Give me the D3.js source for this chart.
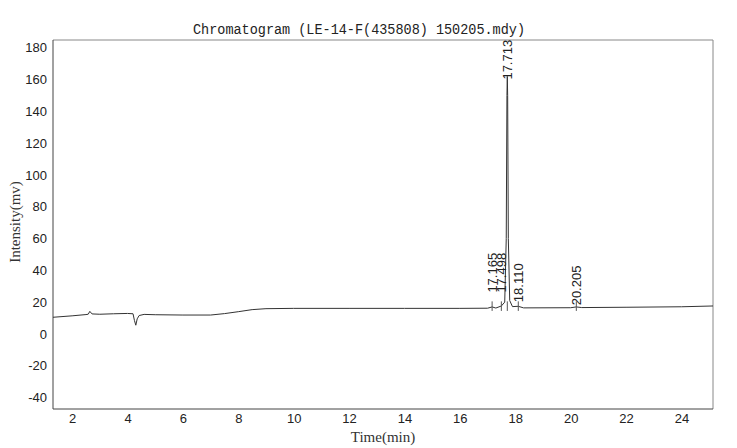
<!DOCTYPE html>
<html>
<head>
<meta charset="utf-8">
<script src="https://cdn.jsdelivr.net/npm/d3@7"></script>
<style>
  html, body { margin: 0; padding: 0; background: #ffffff; }
  svg { display: block; }
</style>
</head>
<body>
<svg id="chart" width="737" height="448"></svg>
<script>
// ---- data ----
const titleText = "Chromatogram (LE-14-F(435808) 150205.mdy)";
const xLabel = "Time(min)";
const yLabel = "Intensity(mv)";
const xTicks = [2, 4, 6, 8, 10, 12, 14, 16, 18, 20, 22, 24];
const yTicks = [-40, -20, 0, 20, 40, 60, 80, 100, 120, 140, 160, 180];
const traceTime = [1.31, 2.0, 2.5, 2.58, 2.64, 2.72, 3.0, 3.5, 4.0, 4.2, 4.25, 4.3, 4.35, 4.42, 4.6, 5.0, 6.0, 7.0, 7.5, 8.0, 8.5, 9.0, 10.0, 12.0, 14.0, 16.0, 17.0, 17.165, 17.3, 17.498, 17.62, 17.675, 17.70, 17.713, 17.726, 17.75, 17.80, 17.9, 18.11, 18.3, 20.0, 20.205, 20.4, 22.0, 24.0, 25.14];
const traceValue = [10.5, 11.4, 12.2, 12.4, 14.2, 12.6, 12.4, 12.7, 12.9, 12.7, 8.5, 5.5, 9.5, 11.6, 12.3, 12.1, 11.9, 11.9, 12.8, 14.0, 15.3, 15.9, 16.1, 16.1, 16.1, 16.1, 16.2, 17.0, 16.3, 17.6, 20, 60, 150, 162, 150, 60, 21, 17.2, 17.4, 16.4, 16.5, 17.0, 16.6, 16.8, 17.1, 17.6];
const peakTimes = [17.165, 17.498, 17.713, 18.110, 20.205];
const peakLabels = ["17.165", "17.498", "17.713", "18.110", "20.205"];
const peakLabelBase = [26, 26, 160, 20, 18]; // label start level (mv)

// ---- layout ----
const svg = d3.select("#chart");
const x = d3.scaleLinear().domain([1.31, 25.14]).range([53, 713]);
const y = d3.scaleLinear().domain([-47.2, 184.9]).range([409, 40]);

// title
svg.append("text")
  .attr("x", 359).attr("y", 34)
  .attr("text-anchor", "middle")
  .attr("font-family", "Liberation Mono, DejaVu Sans Mono, monospace")
  .attr("font-size", 14)
  .attr("fill", "#222")
  .attr("textLength", 332)
  .attr("lengthAdjust", "spacingAndGlyphs")
  .text(titleText);

// frame
svg.append("line").attr("x1", 53).attr("x2", 713).attr("y1", 40).attr("y2", 40)
  .attr("stroke", "#888").attr("stroke-width", 1);
svg.append("line").attr("x1", 713).attr("x2", 713).attr("y1", 40).attr("y2", 409)
  .attr("stroke", "#888").attr("stroke-width", 1);

// axes
const fmt = d => String(d);
const yAxis = d3.axisLeft(y).tickValues(yTicks).tickSize(0).tickPadding(6).tickFormat(fmt);
const gy = svg.append("g").attr("transform", "translate(53,0)").call(yAxis);
gy.select(".domain").attr("stroke", "#444").attr("d", "M0,40V409");
gy.selectAll("text").attr("font-family", "Liberation Sans, Arial, sans-serif")
  .attr("font-size", 13).attr("fill", "#222");

const xAxis = d3.axisBottom(x).tickValues(xTicks).tickSize(0).tickPadding(5).tickFormat(fmt);
const gx = svg.append("g").attr("transform", "translate(0,409)").call(xAxis);
gx.select(".domain").attr("stroke", "#444").attr("d", "M53,0H713");
gx.selectAll("text").attr("font-family", "Liberation Sans, Arial, sans-serif")
  .attr("font-size", 13).attr("fill", "#222");

// axis labels
svg.append("text")
  .attr("transform", "translate(20,222) rotate(-90)")
  .attr("text-anchor", "middle")
  .attr("font-family", "Liberation Serif, Times New Roman, serif")
  .attr("font-size", 15).attr("fill", "#333")
  .text(yLabel);
svg.append("text")
  .attr("x", 383).attr("y", 442)
  .attr("text-anchor", "middle")
  .attr("font-family", "Liberation Serif, Times New Roman, serif")
  .attr("font-size", 15).attr("fill", "#333")
  .text(xLabel);

// trace
const pts = traceTime.map((t, i) => [t, traceValue[i]]);
svg.append("path")
  .datum(pts)
  .attr("fill", "none")
  .attr("stroke", "#333")
  .attr("stroke-width", 1)
  .attr("d", d3.line().x(d => x(d[0])).y(d => y(d[1])));

// peak markers
svg.selectAll(".pmark").data(peakTimes).enter().append("line")
  .attr("class", "pmark")
  .attr("x1", d => x(d)).attr("x2", d => x(d))
  .attr("y1", y(14.5)).attr("y2", y(20.5))
  .attr("stroke", "#555").attr("stroke-width", 1);

// peak labels
svg.selectAll(".plabel").data(peakTimes).enter().append("text")
  .attr("class", "plabel")
  .attr("transform", (d, i) => `translate(${x(d)},${y(peakLabelBase[i])}) rotate(-90)`)
  .attr("dy", "0.35em")
  .attr("text-anchor", "start")
  .attr("font-family", "Liberation Sans, Arial, sans-serif")
  .attr("font-size", 13)
  .attr("fill", "#222")
  .text((d, i) => peakLabels[i]);
</script>
</body>
</html>
